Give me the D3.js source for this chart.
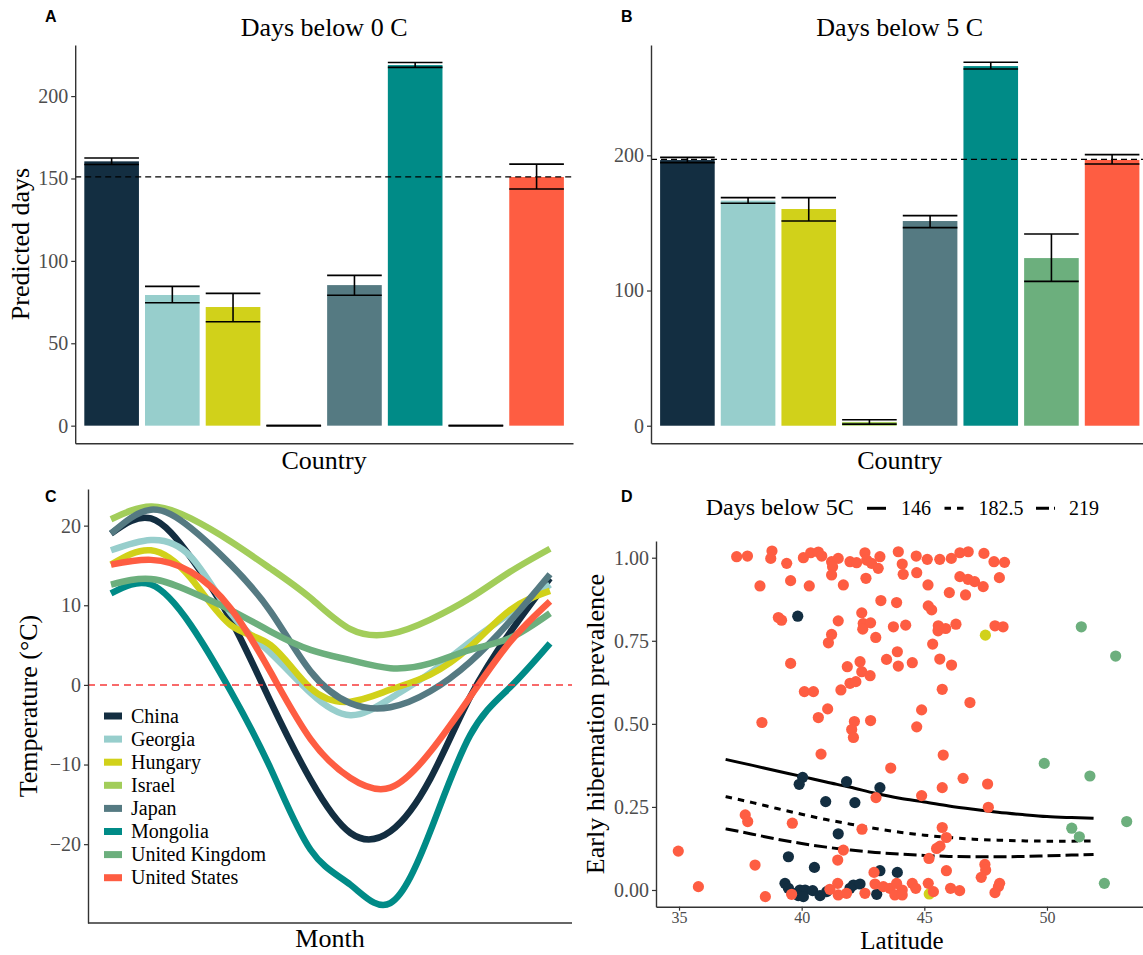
<!DOCTYPE html>
<html>
<head>
<meta charset="utf-8">
<script src="https://cdn.jsdelivr.net/npm/d3@7"></script>
<style>
  body { margin: 0; background: #fff; }
  svg { display: block; }
</style>
</head>
<body>
<div id="chart"></div>
<script>
// ---- data ----
var countries = ["China", "Georgia", "Hungary", "Israel", "Japan", "Mongolia", "United Kingdom", "United States"];
var countryColors = ["#132e41", "#97cecc", "#d1d11a", "#a2cd5a", "#557a82", "#008b87", "#6caf7d", "#fe5d42"];

// A: days below 0 C
var days0 = [160.4, 79.3, 72.0, 0, 85.3, 218.8, 0, 150.9];
var days0Lower = [158.5, 74.6, 63.1, 0, 79.1, 217.4, 0, 143.6];
var days0Upper = [162.4, 84.5, 80.3, 0, 91.2, 220.4, 0, 158.7];
var days0Ref = 151;
var days0Ticks = [0, 50, 100, 150, 200];

// B: days below 5 C
var days5 = [196.5, 166.5, 160.3, 2.8, 151.4, 266.0, 124.0, 196.6];
var days5Lower = [194.6, 164.5, 151.4, 1.2, 146.5, 263.9, 106.8, 193.6];
var days5Upper = [198.5, 168.7, 168.7, 4.4, 155.4, 268.8, 141.8, 200.5];
var days5Ref = 197;
var days5Ticks = [0, 100, 200];

// C: smoothed monthly temperature
var months = [1, 2, 3, 4, 5, 6, 7, 8, 9, 10, 11, 12];
var tempChina = [19.0, 20.9, 16.0, 8.2, -2.1, -11.9, -18.6, -18.4, -11.8, -1.5, 6.6, 13.4];
var tempGeorgia = [16.9, 18.2, 16.1, 9.0, 4.0, -1.0, -3.8, -1.7, 1.5, 5.4, 9.0, 12.6];
var tempHungary = [15.1, 16.9, 13.4, 7.5, 5.0, -0.4, -2.1, -0.6, 1.3, 4.8, 9.4, 11.8];
var tempIsrael = [20.8, 22.4, 20.9, 18.0, 14.6, 10.9, 7.0, 6.4, 8.2, 10.9, 14.2, 17.1];
var tempJapan = [19.0, 22.0, 19.7, 15.1, 9.2, 1.7, -2.3, -2.8, -0.8, 2.9, 8.0, 13.9];
var tempMongolia = [11.5, 12.6, 7.5, -0.8, -10.5, -20.7, -25.1, -27.4, -18.4, -6.3, -0.3, 5.2];
var tempUK = [12.6, 13.3, 11.7, 9.4, 6.7, 4.4, 3.1, 2.1, 2.7, 4.4, 5.9, 9.0];
var tempUS = [15.1, 15.7, 14.2, 9.6, 1.6, -6.8, -11.7, -12.9, -8.4, -1.5, 5.4, 10.5];
var tempSeries = [tempChina, tempGeorgia, tempHungary, tempIsrael, tempJapan, tempMongolia, tempUK, tempUS];
var tempTicks = [-20, -10, 0, 10, 20];

// D: early hibernation prevalence vs latitude, [lat, prevalence]
var sitesChina = [[39.84,0.824],[40.04,0.339],[39.90,0.318],[41.83,0.326],[43.19,0.308],[40.98,0.266],[42.17,0.263],
  [41.49,0.169],[39.46,0.100],[40.52,0.068],[43.19,0.058],[43.90,0.053],[39.32,0.020],[39.46,0.005],[39.66,-0.010],
  [39.93,0.000],[40.14,0.000],[40.45,-0.002],[40.75,-0.017],[39.86,-0.017],[40.07,-0.020],[41.02,-0.005],[42.11,0.015],
  [42.38,0.018],[43.06,-0.013],[41.97,0.005]];
var sitesHungary = [[47.49,0.767],[45.20,-0.012]];
var sitesUK = [[51.40,0.792],[52.80,0.704],[49.89,0.381],[51.75,0.343],[53.25,0.206],[51.01,0.186],[51.32,0.160],[52.34,0.020]];
var sitesUS = [[37.35,1.003],[37.79,1.005],[38.79,1.020],[38.74,0.998],[39.39,0.983],[40.07,1.000],[40.37,1.015],[40.68,1.017],
  [40.82,1.005],[41.22,0.988],[41.49,0.998],[41.26,0.973],[41.22,0.948],[41.97,0.988],[42.24,0.985],[42.58,1.015],[42.65,0.993],
  [42.85,0.983],[43.19,1.003],[43.12,0.968],[42.62,0.938],[43.94,1.018],[38.30,0.915],[39.55,0.931],[40.31,0.915],[41.70,0.918],
  [43.23,0.871],[43.87,0.865],[39.05,0.820],[39.18,0.812],[41.49,0.810],[42.45,0.834],[42.51,0.802],[42.81,0.804],[42.49,0.785],
  [43.02,0.760],[43.74,0.792],[41.22,0.769],[41.09,0.744],[43.90,0.717],[39.55,0.682],[41.86,0.672],[42.38,0.687],[42.45,0.657],
  [42.79,0.645],[43.46,0.694],[43.94,0.674],[41.97,0.622],[42.21,0.627],[41.60,0.602],[40.11,0.597],[40.48,0.597],[41.06,0.545],
  [40.68,0.519],[42.15,0.507],[42.04,0.483],[42.11,0.459],[42.81,0.510],[38.38,0.504],[40.79,0.409],[43.63,0.367],[43.03,0.278],
  [37.70,0.226],[37.80,0.206],[39.62,0.201],[42.46,0.183],[41.70,0.120],[41.47,0.090],[34.97,0.117],[38.10,0.075],[42.95,0.053],
  [35.79,0.010],[38.52,-0.020],[39.59,-0.013],[41.15,0.002],[41.47,0.020],[41.49,-0.015],[41.83,-0.010],[42.58,-0.010],[42.99,0.018],
  [43.33,0.010],[43.60,0.005],[43.87,0.020],[43.80,-0.015],
  [44.67,1.005],[45.12,0.995],[45.63,0.995],[46.10,0.998],[46.45,1.015],[46.79,1.018],[47.43,1.013],[47.84,0.988],[48.27,0.986],
  [44.10,0.981],[44.14,0.950],[44.69,0.955],[45.15,0.918],[46.45,0.943],[46.78,0.935],[47.05,0.928],[47.40,0.913],[48.06,0.940],
  [46.02,0.895],[46.68,0.888],[45.16,0.855],[45.30,0.843],[44.24,0.797],[45.57,0.795],[45.56,0.780],[45.87,0.787],[46.29,0.800],
  [47.88,0.795],[48.21,0.792],[45.34,0.740],[44.51,0.684],[45.63,0.695],[46.11,0.677],[45.73,0.604],[46.86,0.564],[44.89,0.542],
  [44.69,0.491],[45.77,0.406],[46.58,0.336],[45.73,0.308],[47.58,0.319],[44.89,0.284],[47.61,0.249],[45.73,0.188],[45.90,0.158],
  [45.64,0.132],[45.50,0.125],[45.19,0.095],[45.90,0.058],[47.47,0.077],[47.50,0.060],[47.32,0.038],[48.07,0.020],[48.02,0.010],
  [47.88,-0.008],[46.07,0.005],[46.44,-0.002],[45.37,-0.005],[45.16,0.020],[44.10,0.000],[44.10,-0.015],[44.51,0.020],[44.65,0.005]];
var siteGroups = [[sitesChina, "#132e41"], [sitesHungary, "#d1d11a"], [sitesUK, "#6caf7d"], [sitesUS, "#fe5d42"]];

var fitLat = [36.9, 38, 39, 40, 41, 42, 43, 44, 45, 46, 47, 48, 49, 50, 51, 51.9];
var fit146 = [0.393, 0.375, 0.358, 0.342, 0.325, 0.309, 0.291, 0.276, 0.265, 0.253, 0.243, 0.234, 0.227, 0.221, 0.218, 0.216];
var fit182 = [0.281, 0.263, 0.245, 0.228, 0.212, 0.198, 0.185, 0.174, 0.165, 0.158, 0.153, 0.150, 0.148, 0.147, 0.147, 0.148];
var fit219 = [0.184, 0.168, 0.153, 0.140, 0.129, 0.120, 0.113, 0.108, 0.104, 0.101, 0.100, 0.100, 0.101, 0.103, 0.105, 0.107];
var fitLabels = ["146", "182.5", "219"];
var prevTicks = [0, 0.25, 0.5, 0.75, 1];
var latTicks = [35, 40, 45, 50];

// ---- drawing ----
var serif = "'Liberation Serif', 'Times New Roman', serif";
var sans = "'Liberation Sans', Arial, sans-serif";

var svg = d3.select("#chart").append("svg")
    .attr("width", 1143)
    .attr("height", 955);

function styleAxis(g, size) {
    g.select(".domain").attr("stroke", "#333").attr("stroke-width", 1.4);
    g.selectAll(".tick line").attr("stroke", "#333").attr("stroke-width", 1.2);
    g.selectAll(".tick text")
        .attr("fill", "#4d4d4d")
        .style("font-family", serif)
        .style("font-size", (size || 20) + "px");
}

function addText(x, y, txt, size, opts) {
    opts = opts || {};
    var t = svg.append("text")
        .attr("x", x).attr("y", y)
        .attr("text-anchor", opts.anchor || "middle")
        .style("font-family", opts.family || serif)
        .style("font-size", size + "px")
        .style("font-weight", opts.weight || "normal")
        .attr("fill", "#000")
        .text(txt);
    if (opts.rotate) t.attr("transform", "rotate(-90," + x + "," + y + ")");
    return t;
}

function drawBars(left, right, yDomain, ticks, values, lower, upper, refValue, title, yTitle) {
    var x = d3.scaleBand().domain(countries).range([left, right]).paddingInner(0.1).paddingOuter(0.15);
    var y = d3.scaleLinear().domain(yDomain).range([443.3, 45]);
    var g = svg.append("g");

    g.selectAll(".bar")
        .data(countries)
        .enter().append("rect")
        .attr("class", "bar")
        .attr("x", function(d) { return x(d); })
        .attr("width", x.bandwidth())
        .attr("y", function(d, i) { return y(values[i]); })
        .attr("height", function(d, i) { return y(0) - y(values[i]); })
        .attr("fill", function(d, i) { return countryColors[i]; });

    g.append("line")
        .attr("x1", left).attr("x2", right)
        .attr("y1", y(refValue)).attr("y2", y(refValue))
        .attr("stroke", "#000").attr("stroke-width", 1.3)
        .attr("stroke-dasharray", "6,4");

    var err = g.selectAll(".err")
        .data(countries)
        .enter().append("g")
        .attr("class", "err")
        .attr("stroke", "#000").attr("stroke-width", 1.6);
    err.append("line")
        .attr("x1", function(d) { return x(d) + x.bandwidth() / 2; })
        .attr("x2", function(d) { return x(d) + x.bandwidth() / 2; })
        .attr("y1", function(d, i) { return y(lower[i]); })
        .attr("y2", function(d, i) { return y(upper[i]); });
    [lower, upper].forEach(function(arr) {
        err.append("line")
            .attr("x1", function(d) { return x(d); })
            .attr("x2", function(d) { return x(d) + x.bandwidth(); })
            .attr("y1", function(d, i) { return y(arr[i]); })
            .attr("y2", function(d, i) { return y(arr[i]); });
    });

    var ya = g.append("g")
        .attr("transform", "translate(" + left + ",0)")
        .call(d3.axisLeft(y).tickValues(ticks).tickSize(4).tickSizeOuter(0).tickPadding(3));
    styleAxis(ya);
    var xa = g.append("g")
        .attr("transform", "translate(0,443.3)")
        .call(d3.axisBottom(x).tickValues([]).tickSizeOuter(0));
    styleAxis(xa);

    var mid = (left + right) / 2;
    addText(mid, 36, title, 26);
    addText(mid, 469, "Country", 26);
    if (yTitle) addText(29, 244, yTitle, 26, { rotate: true });
}

// Panel A
drawBars(75.2, 573, [-10.7, 231], days0Ticks, days0, days0Lower, days0Upper, days0Ref, "Days below 0 C", "Predicted days");
addText(45, 22, "A", 16, { anchor: "start", family: sans, weight: "bold" });

// Panel B
drawBars(651, 1148.5, [-13, 281.6], days5Ticks, days5, days5Lower, days5Upper, days5Ref, "Days below 5 C", null);
addText(621, 22, "B", 16, { anchor: "start", family: sans, weight: "bold" });

// Panel C
(function() {
    var x = d3.scaleLinear().domain([1, 12]).range([111, 550]);
    var y = d3.scaleLinear().domain([-29.9, 24.6]).range([923, 489]);
    var g = svg.append("g");

    var line = d3.line()
        .x(function(d, i) { return x(months[i]); })
        .y(function(d) { return y(d); })
        .curve(d3.curveNatural);

    g.selectAll(".temp")
        .data(tempSeries)
        .enter().append("path")
        .attr("class", "temp")
        .attr("d", line)
        .attr("fill", "none")
        .attr("stroke", function(d, i) { return countryColors[i]; })
        .attr("stroke-width", 6.5)
        .attr("stroke-linejoin", "round");

    g.append("line")
        .attr("x1", 88).attr("x2", 572)
        .attr("y1", y(0)).attr("y2", y(0))
        .attr("stroke", "#f63a3a").attr("stroke-width", 1.5)
        .attr("stroke-dasharray", "7,5");

    var ya = g.append("g")
        .attr("transform", "translate(88,0)")
        .call(d3.axisLeft(y).tickValues(tempTicks).tickSize(4).tickSizeOuter(0).tickPadding(3));
    styleAxis(ya);
    g.append("line")
        .attr("x1", 88).attr("x2", 572).attr("y1", 923).attr("y2", 923)
        .attr("stroke", "#333").attr("stroke-width", 1.4);

    var leg = g.selectAll(".leg")
        .data(countries)
        .enter().append("g")
        .attr("class", "leg")
        .attr("transform", function(d, i) { return "translate(104," + (716 + i * 23.1) + ")"; });
    leg.append("rect")
        .attr("x", 0).attr("y", -3.5).attr("width", 18).attr("height", 7)
        .attr("fill", function(d, i) { return countryColors[i]; });
    leg.append("text")
        .attr("x", 27).attr("dy", "0.33em")
        .style("font-family", serif).style("font-size", "20px")
        .text(function(d) { return d; });

    addText(37, 706, "Temperature (\u00B0C)", 26, { rotate: true });
    addText(330, 947, "Month", 26);
    addText(45, 502, "C", 16, { anchor: "start", family: sans, weight: "bold" });
})();

// Panel D
(function() {
    var x = d3.scaleLinear().domain([34.062, 54.2]).range([656, 1150]);
    var y = d3.scaleLinear().domain([-0.0503, 1.0503]).range([906.7, 541]);
    var g = svg.append("g");

    var line = d3.line()
        .x(function(d, i) { return x(fitLat[i]); })
        .y(function(d) { return y(d); })
        .curve(d3.curveMonotoneX);
    var dashes = [null, "6.5,6", "13,5"];
    [fit146, fit182, fit219].forEach(function(series, k) {
        g.append("path")
            .attr("d", line(series))
            .attr("fill", "none")
            .attr("stroke", "#000")
            .attr("stroke-width", 3)
            .attr("stroke-dasharray", dashes[k]);
    });

    siteGroups.forEach(function(grp) {
        g.selectAll(null)
            .data(grp[0])
            .enter().append("circle")
            .attr("cx", function(d) { return x(d[0]); })
            .attr("cy", function(d) { return y(d[1]); })
            .attr("r", 5.6)
            .attr("fill", grp[1]);
    });

    var ya = g.append("g")
        .attr("transform", "translate(656,0)")
        .call(d3.axisLeft(y).tickValues(prevTicks).tickFormat(d3.format(".2f")).tickSize(4).tickSizeOuter(0).tickPadding(3));
    styleAxis(ya);
    var xa = g.append("g")
        .attr("transform", "translate(0,906.7)")
        .call(d3.axisBottom(x).tickValues(latTicks).tickSize(4).tickSizeOuter(0).tickPadding(1));
    styleAxis(xa, 16);

    // legend
    addText(705.7, 515, "Days below 5C", 24, { anchor: "start" });
    var keyX = [867, 944.5, 1036];
    var labelX = [901, 978.6, 1069];
    fitLabels.forEach(function(lab, k) {
        g.append("line")
            .attr("x1", keyX[k]).attr("x2", keyX[k] + 19)
            .attr("y1", 508.3).attr("y2", 508.3)
            .attr("stroke", "#000").attr("stroke-width", 3)
            .attr("stroke-dasharray", dashes[k]);
        addText(labelX[k], 515, lab, 20, { anchor: "start" });
    });

    addText(604, 724, "Early hibernation prevalence", 26, { rotate: true });
    addText(902, 949, "Latitude", 25);
    addText(621, 502, "D", 16, { anchor: "start", family: sans, weight: "bold" });
})();
</script>
</body>
</html>
